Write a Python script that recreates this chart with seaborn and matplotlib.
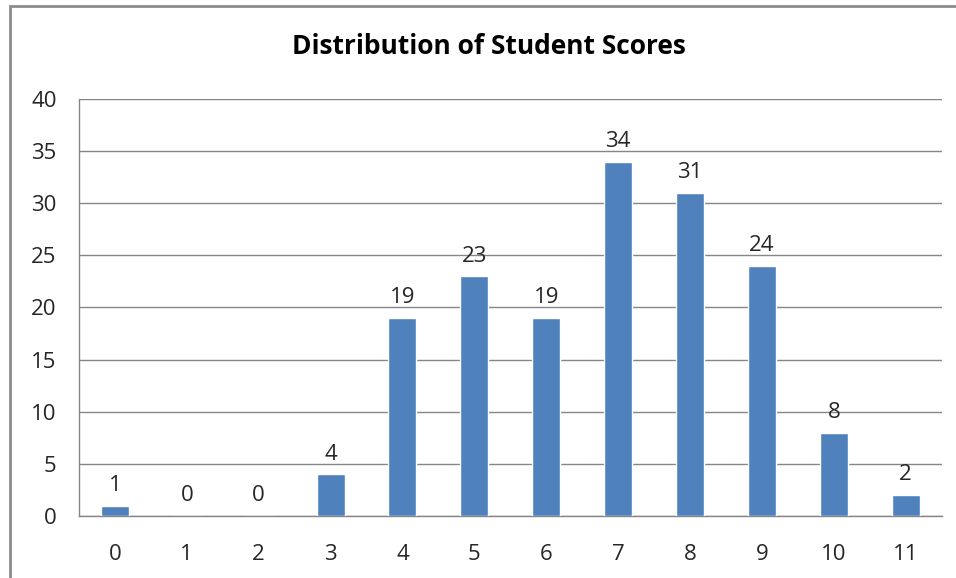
import numpy as np
import pandas as pd
import seaborn as sns
import matplotlib.pyplot as plt
from matplotlib.patches import Rectangle

# ---------------- DATA ------------------
scores = ["0", "1", "2", "3", "4", "5", "6", "7", "8", "9", "10", "11"]
counts = [1, 0, 0, 4, 19, 23, 19, 34, 31, 24, 8, 2]
y_ticks = [0, 5, 10, 15, 20, 25, 30, 35, 40]
TITLE = "Distribution of Student Scores"

BAR_COLOR = "#4F81BD"
GRID_COLOR = "#868686"
TEXT_COLOR = "#262626"

df = pd.DataFrame({"score": scores, "count": counts})

sns.set_style("white")
plt.rcParams["font.family"] = ["Open Sans", "DejaVu Sans"]

fig = plt.figure(figsize=(9.56, 5.78), dpi=100)
ax = fig.add_axes([0.0826, 0.1073, 0.9024, 0.7214])

sns.barplot(data=df, x="score", y="count", color=BAR_COLOR, width=0.39,
            saturation=1, ax=ax, zorder=3)

ax.set_ylim(0, 40)
ax.set_xlim(-0.5, len(scores) - 0.5)
ax.set_yticks(y_ticks)
ax.yaxis.grid(True, color=GRID_COLOR, linewidth=1, zorder=0)
ax.set_axisbelow(True)
ax.set_xlabel("")
ax.set_ylabel("")

for side in ["top", "right"]:
    ax.spines[side].set_visible(False)
for side in ["left", "bottom"]:
    ax.spines[side].set_color(GRID_COLOR)
    ax.spines[side].set_linewidth(1)

# tick marks at category boundaries, labels at centres
ax.set_xticks(np.arange(-0.5, len(scores)), minor=True)
ax.tick_params(axis="x", which="major", length=0, pad=20, labelsize=16, colors=TEXT_COLOR)
ax.tick_params(axis="x", which="minor", length=9, color=GRID_COLOR, width=1)
ax.tick_params(axis="y", length=8, color=GRID_COLOR, width=1, pad=8, labelsize=16, labelcolor=TEXT_COLOR)

# data labels
for i, v in enumerate(counts):
    ax.annotate(str(v), (i, v), xytext=(0, 7), textcoords="offset points",
                ha="center", va="bottom", fontsize=16, color=TEXT_COLOR)

fig.text(0.5115, 0.92, TITLE, ha="center", va="center", fontsize=19,
         fontweight="bold", color="#000000")

# chart area border
fig.patches.append(Rectangle((10 / 956, -0.05), 1.0, 1.05 - 6 / 578,
                             transform=fig.transFigure, fill=False,
                             edgecolor="#8c8c8c", linewidth=2))

plt.savefig("out.png", dpi=100)
plt.close()
